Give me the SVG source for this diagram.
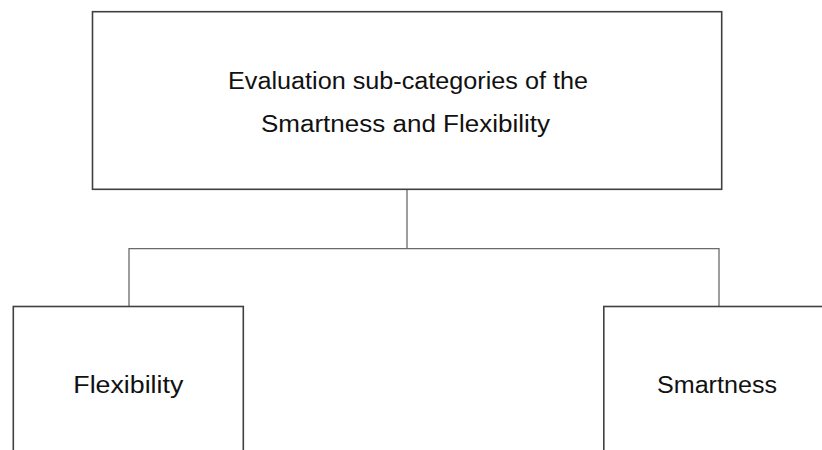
<svg xmlns="http://www.w3.org/2000/svg" width="822" height="450" viewBox="0 0 822 450">
<style>
.box{fill:#ffffff;stroke:#404040;stroke-width:1.6}
.conn{fill:none;stroke:#6a6a6a;stroke-width:1.3}
text{font-family:"Liberation Sans",Arial,sans-serif;font-size:23px;fill:#111111}
</style>
<rect width="822" height="450" fill="#ffffff"/>
<g id="connectors">
<path class="conn" d="M407 190 V248.7 M129 306 V248.7 H719 V306"/>
</g>
<g id="top">
<rect class="box" x="92.5" y="11.7" width="629.2" height="177.6"/>
<text x="228" y="89.3" textLength="360" lengthAdjust="spacingAndGlyphs">Evaluation sub-categories of the</text>
<text x="261" y="131.7" textLength="289" lengthAdjust="spacingAndGlyphs">Smartness and Flexibility</text>
</g>
<g id="flexibility">
<rect class="box" x="13.3" y="306.5" width="230" height="160"/>
<text x="73.3" y="393.3" textLength="110" lengthAdjust="spacingAndGlyphs">Flexibility</text>
</g>
<g id="smartness">
<rect class="box" x="603.8" y="306.5" width="240" height="160"/>
<text x="657" y="393.3" textLength="120" lengthAdjust="spacingAndGlyphs">Smartness</text>
</g>
</svg>
